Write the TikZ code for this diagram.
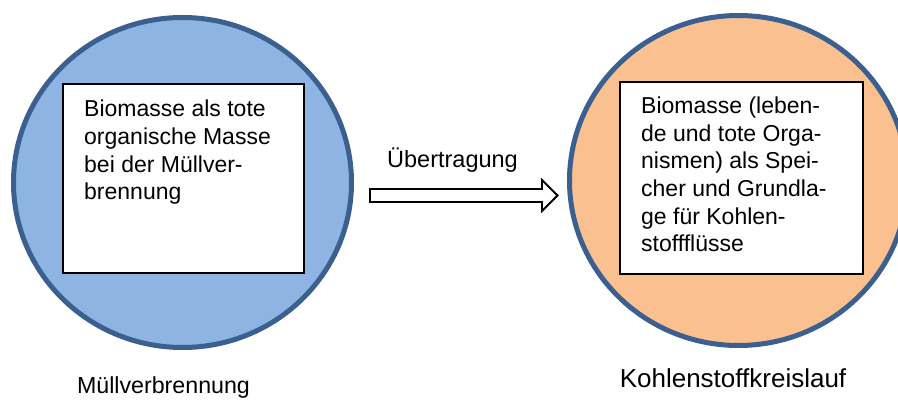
\documentclass[tikz,border=0pt]{standalone}
\usepackage{fontspec}
\setmainfont{Liberation Sans}
\usetikzlibrary{shapes.geometric}
\definecolor{ringblue}{HTML}{3B5F8F}
\definecolor{lightblue}{HTML}{8EB4E3}
\definecolor{lightorange}{HTML}{FAC090}
\newcommand\boxfont{\fontsize{23}{27.7}\selectfont}
\begin{document}
\begin{tikzpicture}[x=1pt,y=1pt,
  ring/.style={ellipse, draw=ringblue, line width=5pt,
    minimum width=338pt, minimum height=330pt, inner sep=0pt},
  textbox/.style={rectangle, draw=black, fill=white, line width=1.6pt, inner sep=0pt},
  boxtext/.style={anchor=base west, inner sep=0pt, font=\boxfont},
  caption/.style={anchor=base, inner sep=0pt},
  blockarrow/.style={draw=black, fill=white, line width=1.8pt, line join=miter}]
  \path[use as bounding box] (0,0) rectangle (898,-401);
  \clip (0,0) rectangle (898,-401);

  % left: waste incineration
  \node[ring, fill=lightblue] (burn) at (182.5,-182.5) {};
  \node[textbox, minimum width=241pt, minimum height=189pt] (burnbox) at (183.5,-178.5) {};
  \node[boxtext] (burntext) at (84,-116.7)
    {\parbox[t]{215pt}{\raggedright Biomasse als tote\\organische Masse\\bei der Müllver-\\brennung}};
  \node[caption, font=\fontsize{23.2}{28}\selectfont] (burnlabel) at (163.5,-393) {Müllverbrennung};

  % right: carbon cycle
  \node[ring, fill=lightorange] (cycle) at (738.5,-180.5) {};
  \node[textbox, minimum width=243pt, minimum height=192pt] (cyclebox) at (741.5,-178) {};
  \node[boxtext] (cycletext) at (641,-113.4)
    {\parbox[t]{215pt}{\raggedright Biomasse (leben-\\de und tote Orga-\\nismen) als Spei-\\cher und Grundla-\\ge für Kohlen-\\stoffflüsse}};
  \node[caption, font=\fontsize{26}{30}\selectfont] (cyclelabel) at (733,-387) {Kohlenstoffkreislauf};

  % transfer arrow
  \coordinate (tail) at (370,-195);
  \draw[blockarrow] (tail) ++(0,6) -- ++(172,0) -- ++(0,9) -- ++(15.5,-15.5)
    -- ++(-15.5,-15.5) -- ++(0,9) -- ++(-172,0) -- cycle;
  \node[anchor=base west, inner sep=0pt, font=\fontsize{23.5}{28}\selectfont] (transfer) at (387,-168) {Übertragung};
\end{tikzpicture}
\end{document}
